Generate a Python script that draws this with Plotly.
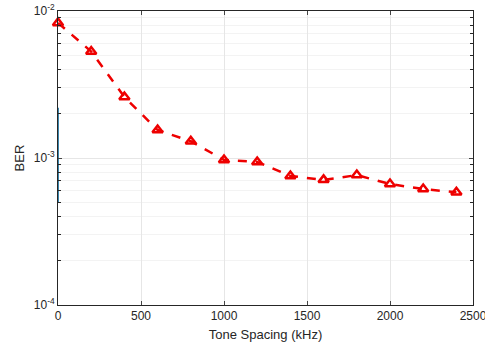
import plotly.graph_objects as go

tone_spacing = [0, 200, 400, 600, 800, 1000, 1200, 1400, 1600, 1800, 2000, 2200, 2400]
ber = [8.3e-3, 5.3e-3, 2.6e-3, 1.55e-3, 1.3e-3, 9.7e-4, 9.4e-4, 7.55e-4, 7.1e-4, 7.65e-4, 6.65e-4, 6.15e-4, 5.85e-4]

blue_x = [0, 0]
blue_y = [5.0e-4, 2.2e-3]

y_tickvals = [1e-4, 1e-3, 1e-2]
y_ticktext = ["10<sup>-4</sup>", "10<sup>-3</sup>", "10<sup>-2</sup>"]
x_tickvals = [0, 500, 1000, 1500, 2000, 2500]
y_minor = [k * 1e-4 for k in range(2, 10)] + [k * 1e-3 for k in range(2, 10)]

fig = go.Figure()
fig.add_trace(go.Scatter(x=blue_x, y=blue_y, mode="lines",
                         line=dict(color="#3b86ad", width=2), showlegend=False, cliponaxis=False))
fig.add_trace(go.Scatter(x=tone_spacing, y=ber, mode="lines+markers",
                         line=dict(color="#ee0000", width=2.5, dash="dash"),
                         marker=dict(symbol="triangle-up-open", size=9, color="#ee0000",
                                     line=dict(width=2.5, color="#ee0000")),
                         showlegend=False, cliponaxis=False))

font = dict(family="Liberation Sans, Arial, sans-serif", size=12, color="#262626")
tfont = dict(family="Liberation Sans, Arial, sans-serif", size=13, color="#262626")
fig.update_layout(
    width=485, height=345,
    margin=dict(l=58, r=12, t=11, b=40, autoexpand=False),
    paper_bgcolor="white", plot_bgcolor="white",
    font=font,
    xaxis=dict(range=[0, 2500], tickvals=x_tickvals, ticks="inside", ticklen=4,
               showline=True, linecolor="#262626", linewidth=1, mirror="ticks",
               showgrid=True, gridcolor="#e6e6e6", zeroline=False,
               automargin=False, ticklabeloverflow="allow",
               title=dict(text="Tone Spacing (kHz)", font=tfont, standoff=7)),
    yaxis=dict(type="log", range=[-4, -2], tickvals=y_tickvals, ticktext=y_ticktext,
               ticks="inside", ticklen=4,
               showline=True, linecolor="#262626", linewidth=1, mirror="ticks",
               showgrid=True, gridcolor="#e6e6e6", zeroline=False,
               automargin=False, ticklabeloverflow="allow",
               minor=dict(tickvals=y_minor, ticks="inside", ticklen=3, tickcolor="#262626",
                          showgrid=True, gridcolor="#f3f3f3"),
               title=dict(text="BER", font=tfont, standoff=6)),
)

fig.write_html("out.html", config={"displayModeBar": False},
               post_script="document.body.style.margin='0';document.body.style.padding='0';")
